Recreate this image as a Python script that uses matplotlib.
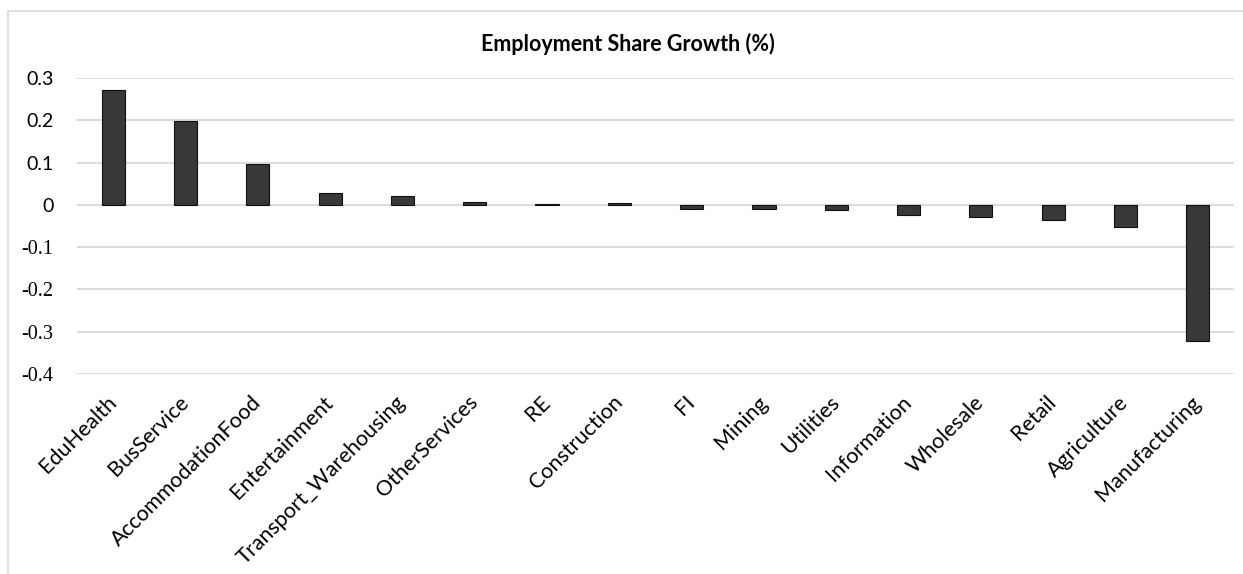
import matplotlib
matplotlib.use("Agg")
from matplotlib import pyplot as plt
from matplotlib.patches import Rectangle

sectors = ['EduHealth', 'BusService', 'AccommodationFood', 'Entertainment',
           'Transport_Warehousing', 'OtherServices', 'RE', 'Construction',
           'FI', 'Mining', 'Utilities', 'Information', 'Wholesale', 'Retail',
           'Agriculture', 'Manufacturing']
growth = [0.271, 0.199, 0.096, 0.027, 0.020, 0.006, 0.001, 0.005,
          -0.010, -0.010, -0.013, -0.024, -0.028, -0.036, -0.053, -0.322]
yticks = [0.3, 0.2, 0.1, 0, -0.1, -0.2, -0.3, -0.4]
ytick_labels = ['0.3', '0.2', '0.1', '0', '-0.1', '-0.2', '-0.3', '-0.4']

W, H = 1243, 574
fig = plt.figure(figsize=(W / 100, H / 100), dpi=100)
ax = fig.add_axes([77 / W, 1 - 374 / H, (1234 - 77) / W, (374 - 78) / H])

# outer chart border
fig.patches.append(Rectangle((8 / W, -0.01), 1.0, 1 - 11 / H + 0.01,
                             transform=fig.transFigure, fill=False,
                             edgecolor='#d9d9d9', lw=1.2))

x = range(len(sectors))
ax.bar(x, growth, width=0.32, color='#383838', edgecolor='#111111', lw=0.8, zorder=3)

ax.set_xlim(-0.5, len(sectors) - 0.5)
ax.set_ylim(-0.4, 0.3)
ax.set_yticks(yticks)
ax.set_yticklabels(ytick_labels)
for lab, val in zip(ax.get_yticklabels(), yticks):
    if val < 0:
        lab.set_family('Liberation Serif')
        lab.set_fontsize(14.5)
    else:
        lab.set_family('Lato')
        lab.set_fontsize(14)
ax.tick_params(axis='y', length=0, pad=17)
ax.grid(axis='y', color='#d9d9d9', lw=1.3, zorder=0)

ax.set_xticks(list(x))
ax.set_xticklabels(sectors, rotation=45, ha='right', va='top',
                   family='Lato', fontsize=15.5)
ax.tick_params(axis='x', length=0, pad=13)
for lab in ax.get_xticklabels():
    lab.set_transform(lab.get_transform() + matplotlib.transforms.ScaledTranslation(0.07, 0, fig.dpi_scale_trans))

for s in ax.spines.values():
    s.set_visible(False)

fig.text(628 / W, 1 - 44 / H, 'Employment Share Growth (%)', ha='center', va='center',
         family='Lato', fontweight='bold', fontsize=15.5)

fig.savefig('out.png', dpi=100, facecolor='white')
